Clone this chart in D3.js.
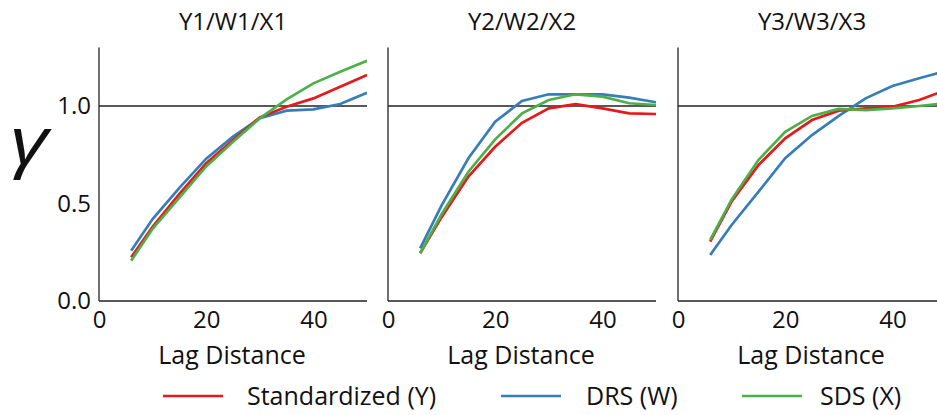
<!DOCTYPE html>
<html><head><meta charset="utf-8">
<script src="https://cdn.jsdelivr.net/npm/d3@7"></script>
<style>
body{margin:0;background:#fff;}
svg{display:block;font-family:"Open Sans",sans-serif;}
</style></head>
<body><svg id="c" width="937" height="415"></svg>
<script>
const lags = [6, 10, 15, 20, 25, 30, 35, 40, 45, 50];
const panelTitles = ["Y1/W1/X1", "Y2/W2/X2", "Y3/W3/X3"];
const seriesNames = ["Standardized (Y)", "DRS (W)", "SDS (X)"];
const seriesColors = ["#e41a1c", "#377eb8", "#4daf4a"];
const xTicks = [0, 20, 40];
const yTicks = [0.0, 0.5, 1.0];

// panel 1
const p1Standardized = [0.224, 0.38, 0.55, 0.706, 0.826, 0.942, 0.996, 1.039, 1.099, 1.159];
const p1DRS          = [0.258, 0.42, 0.58, 0.73, 0.843, 0.937, 0.976, 0.983, 1.01, 1.068];
const p1SDS          = [0.207, 0.37, 0.53, 0.69, 0.817, 0.937, 1.034, 1.116, 1.176, 1.232];
// panel 2
const p2Standardized = [0.245, 0.43, 0.638, 0.791, 0.914, 0.988, 1.01, 0.988, 0.962, 0.959];
const p2DRS          = [0.27, 0.49, 0.732, 0.92, 1.026, 1.06, 1.06, 1.06, 1.043, 1.019];
const p2SDS          = [0.245, 0.445, 0.663, 0.829, 0.962, 1.031, 1.06, 1.048, 1.014, 1.005];
// panel 3
const p3Standardized = [0.304, 0.51, 0.697, 0.834, 0.928, 0.976, 0.988, 0.996, 1.031, 1.082];
const p3DRS          = [0.236, 0.39, 0.56, 0.732, 0.851, 0.949, 1.039, 1.103, 1.142, 1.18];
const p3SDS          = [0.313, 0.52, 0.723, 0.868, 0.949, 0.985, 0.979, 0.988, 1.0, 1.014];

const panels = [
  [p1Standardized, p1DRS, p1SDS],
  [p2Standardized, p2DRS, p2SDS],
  [p3Standardized, p3DRS, p3SDS]
];

const svg = d3.select("#c");
const panelLeft = [99, 388, 678];
const pw = 268, plotTop = 47.5, plotBottom = 301;
const y = d3.scaleLinear().domain([0, 1.3]).range([plotBottom, plotTop]);

panels.forEach((series, i) => {
  const x = d3.scaleLinear().domain([0, 50]).range([0, pw]);
  const g = svg.append("g").attr("transform", `translate(${panelLeft[i]},0)`);
  const clipId = "clip" + i;
  g.append("clipPath").attr("id", clipId).append("rect")
    .attr("x", 0).attr("y", plotTop - 5).attr("width", pw).attr("height", plotBottom - plotTop + 5);

  g.append("line").attr("x1", 0).attr("x2", pw)
    .attr("y1", y(1)).attr("y2", y(1)).attr("stroke", "#222").attr("stroke-width", 1.3);

  const line = d3.line().x((d, k) => x(lags[k])).y(d => y(d));
  const order = [1, 0, 2];
  order.forEach(s => {
    g.append("path").datum(series[s]).attr("d", line)
      .attr("fill", "none").attr("stroke", seriesColors[s]).attr("stroke-width", 2.7)
      .attr("clip-path", `url(#${clipId})`);
  });

  const xa = g.append("g").attr("transform", `translate(0,${plotBottom})`)
    .call(d3.axisBottom(x).tickValues(xTicks).tickSize(0).tickPadding(10).tickFormat(d3.format("d")));
  xa.select(".domain").attr("stroke", "#222").attr("stroke-width", 1.3).attr("d", `M0,0H${pw}`);
  xa.selectAll("text").attr("font-size", 24).attr("fill", "#111").attr("font-family", "Open Sans");

  const ya = g.append("g")
    .call(d3.axisLeft(y).tickValues(yTicks).tickSize(0).tickPadding(8)
      .tickFormat(i === 0 ? d3.format(".1f") : () => ""));
  ya.select(".domain").attr("stroke", "#222").attr("stroke-width", 1.3).attr("d", `M0,${plotTop}V${plotBottom}`);
  ya.selectAll("text").attr("font-size", 24).attr("fill", "#111").attr("font-family", "Open Sans");

  g.append("text").attr("x", pw / 2).attr("y", 29.5).attr("text-anchor", "middle")
    .attr("font-size", 24).attr("fill", "#111").text(panelTitles[i]);
  g.append("text").attr("x", pw / 2 - 1).attr("y", 364).attr("text-anchor", "middle")
    .attr("font-size", 25).attr("fill", "#111").text("Lag Distance");
});

svg.append("text").attr("transform", "translate(10,164) scale(1.25,1)").attr("font-size", 66)
  .attr("font-style", "italic").attr("fill", "#111").text("γ");

const legX = [163, 501, 742];
const legTextX = [247, 586, 820];
seriesNames.forEach((n, i) => {
  svg.append("line").attr("x1", legX[i]).attr("x2", legX[i] + 60)
    .attr("y1", 396).attr("y2", 396).attr("stroke", seriesColors[i]).attr("stroke-width", 2.7);
  svg.append("text").attr("x", legTextX[i]).attr("y", 405).attr("font-size", 25)
    .attr("fill", "#111").text(n);
});
</script></body></html>
